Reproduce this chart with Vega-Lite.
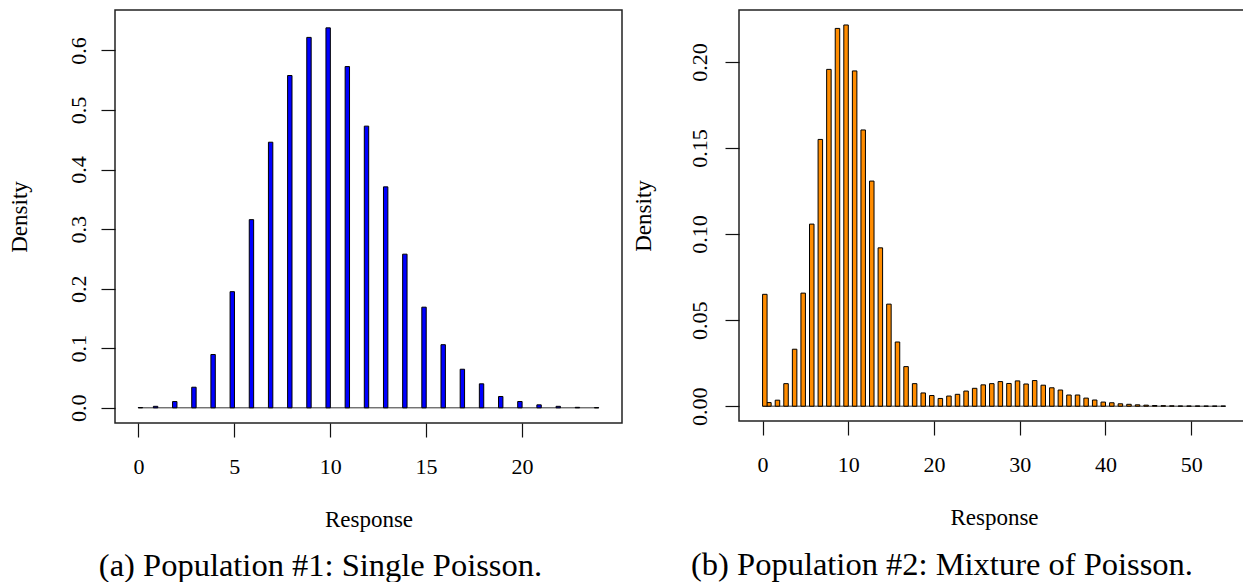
{
  "$schema": "https://vega.github.io/schema/vega-lite/v6.json",
  "padding": {"left": 7, "top": 9, "right": 0, "bottom": 0},
  "background": "white",
  "datasets": {
    "pop1": [
      {"Response": 0, "Density": 0.0005}, {"Response": 1, "Density": 0.0025}, {"Response": 2, "Density": 0.0105},
      {"Response": 3, "Density": 0.0346}, {"Response": 4, "Density": 0.0895}, {"Response": 5, "Density": 0.195},
      {"Response": 6, "Density": 0.316}, {"Response": 7, "Density": 0.446}, {"Response": 8, "Density": 0.558},
      {"Response": 9, "Density": 0.622}, {"Response": 10, "Density": 0.638}, {"Response": 11, "Density": 0.573},
      {"Response": 12, "Density": 0.473}, {"Response": 13, "Density": 0.371}, {"Response": 14, "Density": 0.258},
      {"Response": 15, "Density": 0.169}, {"Response": 16, "Density": 0.106}, {"Response": 17, "Density": 0.0648},
      {"Response": 18, "Density": 0.0403}, {"Response": 19, "Density": 0.019}, {"Response": 20, "Density": 0.0106},
      {"Response": 21, "Density": 0.005}, {"Response": 22, "Density": 0.0025}, {"Response": 23, "Density": 0.0008},
      {"Response": 24, "Density": 0.0003}
    ],
    "pop2": [
      {"Response": 0, "Density": 0.065}, {"Response": 1, "Density": 0.0021}, {"Response": 2, "Density": 0.0035},
      {"Response": 3, "Density": 0.0131}, {"Response": 4, "Density": 0.0331}, {"Response": 5, "Density": 0.0657},
      {"Response": 6, "Density": 0.1058}, {"Response": 7, "Density": 0.155}, {"Response": 8, "Density": 0.1957},
      {"Response": 9, "Density": 0.2195}, {"Response": 10, "Density": 0.2215}, {"Response": 11, "Density": 0.1948},
      {"Response": 12, "Density": 0.1605}, {"Response": 13, "Density": 0.1308}, {"Response": 14, "Density": 0.092},
      {"Response": 15, "Density": 0.0593}, {"Response": 16, "Density": 0.0373}, {"Response": 17, "Density": 0.023},
      {"Response": 18, "Density": 0.0131}, {"Response": 19, "Density": 0.0077}, {"Response": 20, "Density": 0.0062},
      {"Response": 21, "Density": 0.0045}, {"Response": 22, "Density": 0.0059}, {"Response": 23, "Density": 0.0069},
      {"Response": 24, "Density": 0.0088}, {"Response": 25, "Density": 0.0104}, {"Response": 26, "Density": 0.0124},
      {"Response": 27, "Density": 0.0131}, {"Response": 28, "Density": 0.0143}, {"Response": 29, "Density": 0.0132},
      {"Response": 30, "Density": 0.0147}, {"Response": 31, "Density": 0.0129}, {"Response": 32, "Density": 0.0149},
      {"Response": 33, "Density": 0.0122}, {"Response": 34, "Density": 0.0107}, {"Response": 35, "Density": 0.0094},
      {"Response": 36, "Density": 0.0065}, {"Response": 37, "Density": 0.0065}, {"Response": 38, "Density": 0.0047},
      {"Response": 39, "Density": 0.0036}, {"Response": 40, "Density": 0.0024}, {"Response": 41, "Density": 0.002},
      {"Response": 42, "Density": 0.0014}, {"Response": 43, "Density": 0.0011}, {"Response": 44, "Density": 0.0008},
      {"Response": 45, "Density": 0.0006}, {"Response": 46, "Density": 0.0004}, {"Response": 47, "Density": 0.0003},
      {"Response": 48, "Density": 0.0002}, {"Response": 49, "Density": 0.0001}, {"Response": 50, "Density": 0.0001},
      {"Response": 51, "Density": 0.0001}, {"Response": 52, "Density": 0.00005}, {"Response": 53, "Density": 0.00005},
      {"Response": 54, "Density": 0.00005}
    ]
  },
  "config": {
    "view": {"stroke": "#222", "strokeWidth": 1.5},
    "axis": {
      "domain": false, "grid": false, "ticks": true, "tickSize": 14, "tickColor": "#111", "tickWidth": 1.2,
      "labelFont": "Liberation Serif", "labelFontSize": 22, "labelColor": "#000",
      "titleFont": "Liberation Serif", "titleFontSize": 23, "titleFontWeight": "normal", "titleColor": "#000"
    },
    "title": {"font": "Liberation Serif", "fontSize": 32.5, "fontWeight": "normal", "color": "#000"}
  },
  "spacing": 117,
  "bounds": "flush",
  "hconcat": [
    {
      "width": 507, "height": 413,
      "title": {"text": "(a) Population #1: Single Poisson.", "orient": "bottom", "anchor": "middle", "dx": -48, "baseline": "alphabetic", "offset": 45},
      "data": {"name": "pop1"},
      "layer": [
        {
          "mark": {"type": "rule", "color": "#333", "strokeWidth": 1},
          "encoding": {
            "x": {"aggregate": "min", "field": "Response", "type": "quantitative", "title": "Response"},
            "x2": {"aggregate": "max", "field": "Response"},
            "y": {"datum": 0, "type": "quantitative"}
          }
        },
        {
          "transform": [{"filter": "datum.Response > 0"}],
          "mark": {"type": "bar", "width": 4.4, "xOffset": -2, "fill": "#0000FF", "stroke": "#000", "strokeWidth": 1},
          "encoding": {
            "x": {"field": "Response", "type": "quantitative", "title": "Response",
              "scale": {"domain": [-0.96, 24.96], "nice": false, "zero": false},
              "axis": {"values": [0, 5, 10, 15, 20], "labelBaseline": "alphabetic", "labelPadding": 36.4, "titleY": 103, "titleBaseline": "alphabetic"}},
            "y": {"field": "Density", "type": "quantitative", "title": "Density", "stack": null,
              "scale": {"domain": [-0.0255, 0.668], "nice": false, "zero": false},
              "axis": {"values": [0, 0.1, 0.2, 0.3, 0.4, 0.5, 0.6], "format": ".1f", "labelAngle": -90, "labelAlign": "center", "labelBaseline": "alphabetic", "labelPadding": 16, "titleAngle": 270, "titleX": -88.5, "titleAlign": "center", "titleBaseline": "alphabetic"}},
            "y2": {"datum": 0}
          }
        },
        {
          "transform": [{"filter": "datum.Response == 0"}],
          "mark": {"type": "bar", "width": 4.4, "xOffset": 2, "fill": "#0000FF", "stroke": "#000", "strokeWidth": 1},
          "encoding": {
            "x": {"field": "Response", "type": "quantitative", "title": "Response"},
            "y": {"field": "Density", "type": "quantitative", "title": "Density", "stack": null},
            "y2": {"datum": 0}
          }
        }
      ]
    },
    {
      "width": 510, "height": 411,
      "title": {"text": "(b) Population #2: Mixture of Poisson.", "orient": "bottom", "anchor": "middle", "dx": -52, "baseline": "alphabetic", "offset": 45},
      "data": {"name": "pop2"},
      "layer": [
        {
          "mark": {"type": "rule", "color": "#333", "strokeWidth": 1},
          "encoding": {
            "x": {"aggregate": "min", "field": "Response", "type": "quantitative", "title": "Response"},
            "x2": {"aggregate": "max", "field": "Response"},
            "y": {"datum": 0, "type": "quantitative"}
          }
        },
        {
          "transform": [{"filter": "datum.Response > 0"}],
          "mark": {"type": "bar", "width": 4.5, "xOffset": -2.2, "fill": "#FF8C00", "stroke": "#000", "strokeWidth": 1},
          "encoding": {
            "x": {"field": "Response", "type": "quantitative", "title": "Response",
              "scale": {"domain": [-2.16, 56.16], "nice": false, "zero": false},
              "axis": {"values": [0, 10, 20, 30, 40, 50], "labelBaseline": "alphabetic", "labelPadding": 36.7, "titleY": 103.5, "titleBaseline": "alphabetic"}},
            "y": {"field": "Density", "type": "quantitative", "title": "Density", "stack": null,
              "scale": {"domain": [-0.0086, 0.2302], "nice": false, "zero": false},
              "axis": {"values": [0, 0.05, 0.1, 0.15, 0.2], "format": ".2f", "labelAngle": -90, "labelAlign": "center", "labelBaseline": "alphabetic", "labelPadding": 18.4, "titleAngle": 270, "titleX": -89, "titleAlign": "center", "titleBaseline": "alphabetic"}},
            "y2": {"datum": 0}
          }
        },
        {
          "transform": [{"filter": "datum.Response == 0"}],
          "mark": {"type": "bar", "width": 4.5, "xOffset": 2.3, "fill": "#FF8C00", "stroke": "#000", "strokeWidth": 1},
          "encoding": {
            "x": {"field": "Response", "type": "quantitative", "title": "Response"},
            "y": {"field": "Density", "type": "quantitative", "title": "Density", "stack": null},
            "y2": {"datum": 0}
          }
        }
      ]
    }
  ]
}
